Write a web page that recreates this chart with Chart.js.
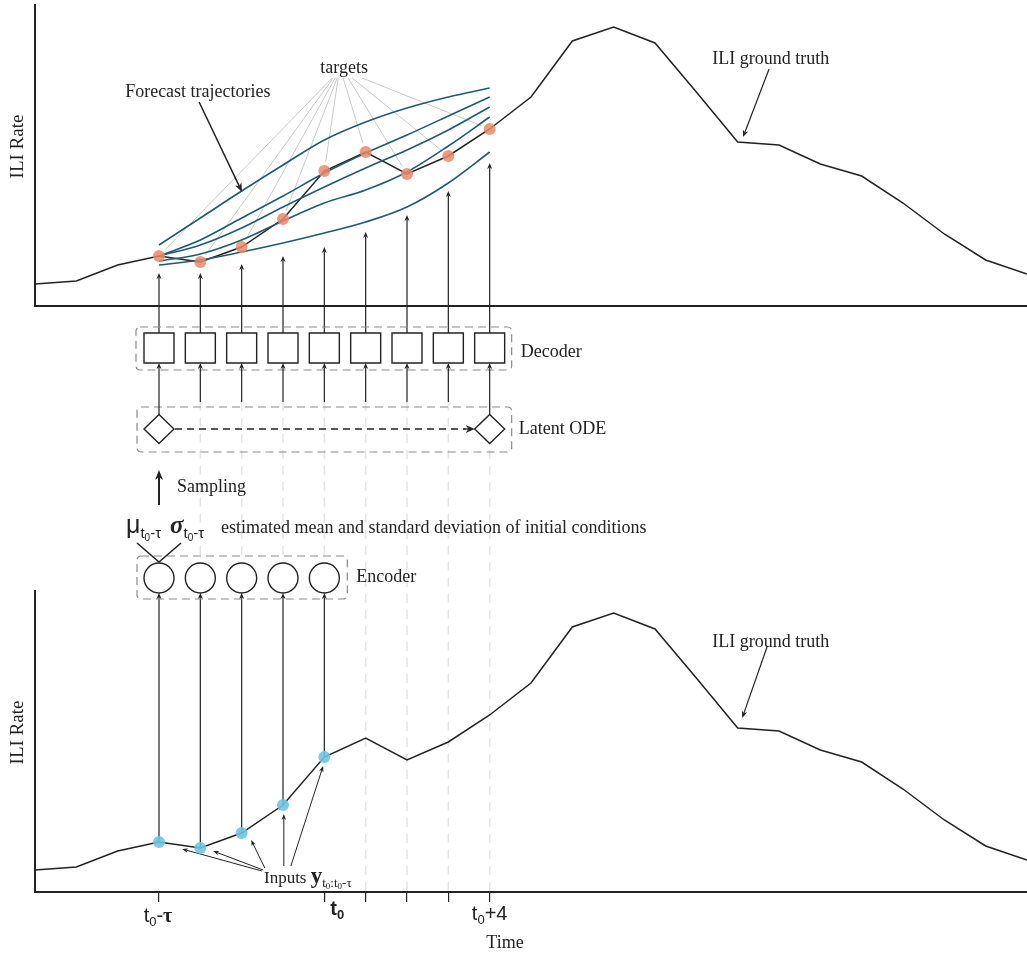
<!DOCTYPE html>
<html>
<head>
<meta charset="utf-8">
<script src="https://cdn.jsdelivr.net/npm/chart.js@4.4.0/dist/chart.umd.min.js"></script>
<style>
  html, body { margin: 0; padding: 0; background: #fff; }
</style>
</head>
<body>
<canvas id="ode" width="1027" height="955"></canvas>
<script>
// weekly ILI rate, same season in both panels
const weeks = [0, 1, 2, 3, 4, 5, 6, 7, 8, 9, 10, 11, 12, 13, 14, 15, 16, 17, 18, 19, 20, 21, 22, 23, 24];
const iliRate = [0.22, 0.25, 0.41, 0.50, 0.44, 0.59, 0.87, 1.35, 1.54, 1.32, 1.50, 1.77, 2.09,
                 2.65, 2.79, 2.63, 2.14, 1.64, 1.61, 1.42, 1.30, 1.03, 0.72, 0.46, 0.32];

const inputWeeks = [3, 4, 5, 6, 7];            // t0-tau .. t0
const targetWeeks = [3, 4, 5, 6, 7, 8, 9, 10, 11]; // decoded horizon
const tickWeeks = [3, 7, 8, 9, 10, 11];

// sampled forecast trajectories over the decoded horizon
const trajA = [0.61, 0.88, 1.15, 1.41, 1.66, 1.84, 1.98, 2.09, 2.18];
const trajB = [0.50, 0.66, 0.88, 1.10, 1.33, 1.53, 1.71, 1.90, 2.09];
const trajC = [0.50, 0.61, 0.78, 0.99, 1.19, 1.38, 1.56, 1.76, 1.99];
const trajD = [0.45, 0.52, 0.66, 0.85, 1.03, 1.16, 1.34, 1.60, 1.89];
const trajE = [0.41, 0.46, 0.54, 0.63, 0.73, 0.84, 0.99, 1.23, 1.54];
// decoder output arrows stop just under the lowest trajectory
const decoderTips = [0.33, 0.33, 0.42, 0.50, 0.59, 0.74, 0.91, 1.15, 1.43];

const INK = '#222';
const SERIF = '"Liberation Serif", "DejaVu Serif", serif';
const SANS = '"Liberation Sans", Arial, sans-serif';
const TEAL = '#1f5a73';
const FONT = '18px ' + SERIF;

const pts = (xs, ys) => xs.map((x, i) => ({ x: x, y: ys[i] }));

function arrow(ctx, x1, y1, x2, y2, head, half) {
  head = head || 7; half = half || 2.8;
  const a = Math.atan2(y2 - y1, x2 - x1), c = Math.cos(a), s = Math.sin(a);
  ctx.beginPath();
  ctx.moveTo(x1, y1);
  ctx.lineTo(x2 - c * head * 0.7, y2 - s * head * 0.7);
  ctx.stroke();
  ctx.beginPath();
  ctx.moveTo(x2, y2);
  ctx.lineTo(x2 - c * head - s * half, y2 - s * head + c * half);
  ctx.lineTo(x2 - c * head * 0.7, y2 - s * head * 0.7);
  ctx.lineTo(x2 - c * head + s * half, y2 - s * head - c * half);
  ctx.closePath();
  ctx.fill();
}

// text made of runs (for subscripts)
function runs(ctx, x, y, parts, align) {
  let w = 0;
  parts.forEach(p => { ctx.font = p.f; w += ctx.measureText(p.t).width; });
  let cx = align === 'center' ? x - w / 2 : x;
  ctx.textAlign = 'left';
  ctx.textBaseline = 'alphabetic';
  parts.forEach(p => {
    ctx.font = p.f;
    ctx.fillText(p.t, cx, y + (p.dy || 0));
    cx += ctx.measureText(p.t).width;
  });
}

function label(ctx, txt, x, y, align) {
  ctx.font = FONT;
  ctx.textAlign = align || 'left';
  ctx.textBaseline = 'middle';
  ctx.fillText(txt, x, y);
}

const diagram = {
  id: 'diagram',
  beforeDatasetsDraw(chart) {
    const ctx = chart.ctx, s = chart.scales;
    const X = v => s.x.getPixelForValue(v);
    const T = v => s.yTop.getPixelForValue(v);
    const B = v => s.yBot.getPixelForValue(v);
    const M = v => s.yMid.getPixelForValue(v);
    ctx.save();

    // faint guides below the latent ODE
    ctx.strokeStyle = '#e4e4e4';
    ctx.lineWidth = 1.5;
    ctx.setLineDash([9, 7]);
    targetWeeks.slice(1).forEach(w => {
      ctx.beginPath();
      ctx.moveTo(X(w), M(96));
      ctx.lineTo(X(w), w <= 7 ? M(250) : B(0));
      ctx.stroke();
    });
    ctx.setLineDash([]);

    // "targets" fan
    ctx.strokeStyle = '#c9c9c9';
    ctx.lineWidth = 1;
    const fan = [-12, -11, -9, -7, -6, -1, 4, 8, 18];
    const tx = X(7.48), ty = T(2.28);
    targetWeeks.forEach((w, i) => {
      const px = X(w), py = T(iliRate[w]);
      const sx = tx + fan[i], sy = ty;
      const d = Math.hypot(sx - px, sy - py);
      ctx.beginPath();
      ctx.moveTo(sx, sy);
      ctx.lineTo(px + (sx - px) / d * 9, py + (sy - py) / d * 9);
      ctx.stroke();
    });

    ctx.strokeStyle = INK;
    ctx.fillStyle = INK;
    ctx.lineWidth = 1.2;

    // decoder outputs up into the forecast panel
    targetWeeks.forEach((w, i) => arrow(ctx, X(w), M(27), X(w), T(decoderTips[i]), 6, 2.5));

    // inputs up into the encoder
    inputWeeks.forEach(w => arrow(ctx, X(w), B(iliRate[w]), X(w), M(287), 6, 2.5));

    // "Inputs" pointers
    const inStart = [[5.49, 0.21], [5.52, 0.22], [5.56, 0.24], [6.02, 0.26], [6.19, 0.26]];
    const inEnd = [[3.56, 0.43], [4.31, 0.41], [5.23, 0.52], [6.02, 0.78], [6.97, 1.26]];
    ctx.lineWidth = 1;
    inStart.forEach((p, i) => arrow(ctx, X(p[0]), B(p[1]), X(inEnd[i][0]), B(inEnd[i][1]), 6, 2.3));
    ctx.restore();
  },
  afterDatasetsDraw(chart) {
    const ctx = chart.ctx, s = chart.scales, a = chart.chartArea;
    const X = v => s.x.getPixelForValue(v);
    const T = v => s.yTop.getPixelForValue(v);
    const B = v => s.yBot.getPixelForValue(v);
    const M = v => s.yMid.getPixelForValue(v);
    ctx.save();
    ctx.fillStyle = INK;
    ctx.strokeStyle = INK;

    // dashed frames
    ctx.strokeStyle = '#8a8a8a';
    ctx.lineWidth = 1.2;
    ctx.setLineDash([8, 5]);
    const frame = (x1, y1, x2, y2) => {
      ctx.beginPath();
      ctx.roundRect(x1, y1, x2 - x1, y2 - y1, 4);
      ctx.stroke();
    };
    frame(X(3) - 23, M(21), X(11) + 22, M(64));
    frame(X(3) - 22, M(101), X(11) + 22, M(146));
    frame(X(3) - 22, M(250), X(7) + 23, M(293));
    ctx.setLineDash([]);

    ctx.strokeStyle = INK;
    ctx.lineWidth = 1.4;
    // decoder cells
    targetWeeks.forEach(w => {
      ctx.beginPath();
      ctx.rect(X(w) - 15, M(27), 30, 30);
      ctx.fillStyle = '#fff';
      ctx.fill();
      ctx.stroke();
    });
    ctx.fillStyle = INK;
    ctx.lineWidth = 1.2;
    targetWeeks.forEach(w => {
      const from = (w === 3 || w === 11) ? M(108.5) : M(96);
      arrow(ctx, X(w), from, X(w), M(57), 6, 2.5);
    });

    // latent ODE states
    ctx.lineWidth = 1.4;
    [3, 11].forEach(w => {
      const cx = X(w), cy = M(123);
      ctx.beginPath();
      ctx.moveTo(cx, cy - 14.5);
      ctx.lineTo(cx + 15, cy);
      ctx.lineTo(cx, cy + 14.5);
      ctx.lineTo(cx - 15, cy);
      ctx.closePath();
      ctx.fillStyle = '#fff';
      ctx.fill();
      ctx.stroke();
    });
    ctx.fillStyle = INK;
    ctx.lineWidth = 1.3;
    ctx.setLineDash([7, 5]);
    ctx.beginPath();
    ctx.moveTo(X(3) + 16, M(123));
    ctx.lineTo(X(11) - 24, M(123));
    ctx.stroke();
    ctx.setLineDash([]);
    arrow(ctx, X(11) - 26, M(123), X(11) - 15, M(123), 9, 4);

    // sampling
    ctx.lineWidth = 2;
    arrow(ctx, X(3), M(199), X(3), M(164), 10, 4);

    // encoder cells
    ctx.lineWidth = 1.4;
    inputWeeks.forEach(w => {
      ctx.beginPath();
      ctx.arc(X(w), M(272), 15, 0, Math.PI * 2);
      ctx.fillStyle = '#fff';
      ctx.fill();
      ctx.stroke();
    });
    ctx.fillStyle = INK;
    ctx.lineWidth = 1.6;
    ctx.beginPath();
    ctx.moveTo(X(3) - 22, M(237)); ctx.lineTo(X(3), M(256)); ctx.lineTo(X(3) + 22, M(237));
    ctx.stroke();

    // labels
    label(ctx, 'Decoder', X(11) + 31, M(46));
    label(ctx, 'Latent ODE', X(11) + 29, M(123));
    label(ctx, 'Encoder', X(7) + 32, M(271));
    label(ctx, 'Sampling', X(3) + 18, M(181));
    label(ctx, 'estimated mean and standard deviation of initial conditions', X(3) + 62, M(222));
    runs(ctx, X(3) - 33, M(227), [
      { t: 'μ', f: '25px ' + SANS },
      { t: 't', f: '15px ' + SANS, dy: 5 },
      { t: '0', f: '10px ' + SANS, dy: 8 },
      { t: '-τ', f: '15px ' + SANS, dy: 5 }
    ]);
    runs(ctx, X(3) + 11, M(227), [
      { t: 'σ', f: 'italic bold 25px ' + SERIF },
      { t: 't', f: '15px ' + SANS, dy: 5 },
      { t: '0', f: '10px ' + SANS, dy: 8 },
      { t: '-τ', f: '15px ' + SANS, dy: 5 }
    ]);

    // panel annotations
    label(ctx, 'targets', X(7.48), T(2.38), 'center');
    label(ctx, 'Forecast trajectories', X(3.94), T(2.14), 'center');
    label(ctx, 'ILI ground truth', X(17.8), T(2.47), 'center');
    label(ctx, 'ILI ground truth', X(17.8), B(2.50), 'center');
    ctx.lineWidth = 1.5;
    arrow(ctx, X(3.97), T(2.04), X(5.01), T(1.14), 9, 3.5);
    ctx.lineWidth = 1.2;
    arrow(ctx, X(17.76), T(2.37), X(17.13), T(1.69), 7, 2.8);
    arrow(ctx, X(17.71), B(2.45), X(17.11), B(1.74), 7, 2.8);

    runs(ctx, X(5.54), B(0.09), [
      { t: 'Inputs ', f: '17px ' + SERIF },
      { t: 'y', f: 'bold 23px ' + SERIF },
      { t: 't', f: '13px ' + SERIF, dy: 4 },
      { t: '0', f: '9px ' + SERIF, dy: 6 },
      { t: ':t', f: '13px ' + SERIF, dy: 4 },
      { t: '0', f: '9px ' + SERIF, dy: 6 },
      { t: '-τ', f: '13px ' + SERIF, dy: 4 }
    ]);

    // y-axis titles
    [s.yTop, s.yBot].forEach(sc => {
      ctx.save();
      ctx.translate(18, (sc.top + sc.bottom) / 2 - 9);
      ctx.rotate(-Math.PI / 2);
      ctx.font = '19px ' + SERIF;
      ctx.textAlign = 'center';
      ctx.textBaseline = 'middle';
      ctx.fillText('ILI Rate', 0, 0);
      ctx.restore();
    });

    // time axis labels
    const base = a.bottom;
    runs(ctx, X(3) - 1, base + 30, [
      { t: 't', f: '20px ' + SANS },
      { t: '0', f: '13px ' + SANS, dy: 4 },
      { t: '-', f: '20px ' + SANS },
      { t: 'τ', f: 'bold 20px ' + SERIF }
    ], 'center');
    runs(ctx, X(7) + 6, base + 23, [
      { t: 't', f: 'bold 20px ' + SANS },
      { t: '0', f: 'bold 13px ' + SANS, dy: 4 }
    ]);
    runs(ctx, X(11), base + 28, [
      { t: 't', f: '20px ' + SANS },
      { t: '0', f: '13px ' + SANS, dy: 4 },
      { t: '+4', f: '20px ' + SANS }
    ], 'center');
    label(ctx, 'Time', X(11.37), base + 51, 'center');
    ctx.restore();
  }
};

const hiddenY = {
  ticks: { display: false },
  grid: { display: false },
  border: { color: INK, width: 2 },
  afterFit: sc => { sc.width = 35; }
};

const datasets = [
  { data: pts(inputWeeks, inputWeeks.map(w => iliRate[w])), yAxisID: 'yBot', showLine: false,
    pointRadius: 6, pointBorderWidth: 0, pointBackgroundColor: 'rgba(110,195,230,0.9)', order: 0 },
  { data: pts(targetWeeks, targetWeeks.map(w => iliRate[w])), yAxisID: 'yTop', showLine: false,
    pointRadius: 6, pointBorderWidth: 0, pointBackgroundColor: 'rgba(234,138,104,0.85)', order: 0 },
  { data: pts(weeks, iliRate), yAxisID: 'yTop', borderColor: INK, borderWidth: 1.5, pointRadius: 0, order: 2 },
  { data: pts(weeks, iliRate), yAxisID: 'yBot', borderColor: INK, borderWidth: 1.5, pointRadius: 0, order: 2 }
];
[trajA, trajB, trajC, trajD, trajE].forEach(tr => {
  datasets.push({ data: pts(targetWeeks, tr), yAxisID: 'yTop', borderColor: TEAL, borderWidth: 1.6,
    pointRadius: 0, cubicInterpolationMode: 'monotone', order: 1 });
});

new Chart(document.getElementById('ode'), {
  type: 'line',
  data: { datasets: datasets },
  options: {
    responsive: false,
    animation: false,
    devicePixelRatio: 1,
    layout: { autoPadding: false, padding: { top: 5, right: 0, left: 0, bottom: 0 } },
    plugins: { legend: { display: false }, tooltip: { enabled: false } },
    scales: {
      x: {
        type: 'linear', min: 0, max: 24, position: 'bottom',
        afterBuildTicks: sc => { sc.ticks = tickWeeks.map(v => ({ value: v })); },
        afterFit: sc => { sc.height = 63; },
        ticks: { display: false },
        grid: { drawOnChartArea: false, tickLength: 10, color: INK, lineWidth: 1.2 },
        border: { color: INK, width: 2 }
      },
      xTop: {
        type: 'linear', min: 0, max: 24, position: { yTop: 0 },
        ticks: { display: false },
        grid: { display: false },
        border: { color: INK, width: 2 }
      },
      yBot: Object.assign({ stack: 'panels', stackWeight: 301, min: 0, max: 3.01, position: 'left' }, hiddenY),
      yMid: Object.assign({ stack: 'panels', stackWeight: 285, min: 0, max: 285, reverse: true, position: 'left' },
        hiddenY, { border: { display: false } }),
      yTop: Object.assign({ stack: 'panels', stackWeight: 301, min: 0, max: 3.01, position: 'left' }, hiddenY)
    }
  },
  plugins: [diagram]
});
</script>
</body>
</html>
